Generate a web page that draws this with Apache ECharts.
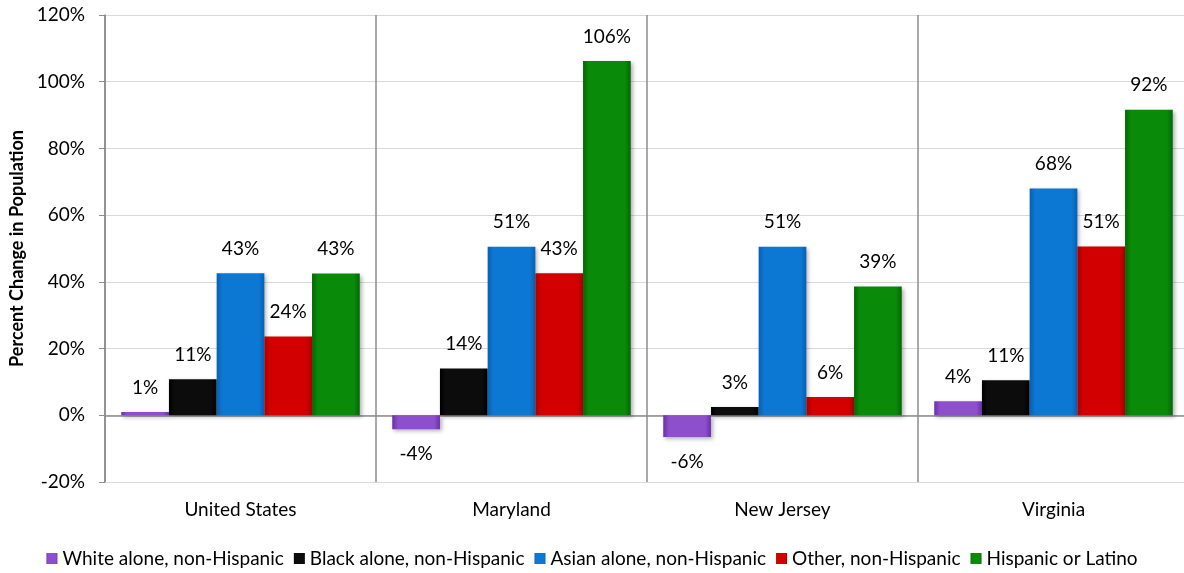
<!DOCTYPE html>
<html>
<head>
<meta charset="utf-8">
<script src="https://cdn.jsdelivr.net/npm/echarts@6/dist/echarts.min.js"></script>
<style>
  html, body { margin: 0; padding: 0; background: #fff; }
  #chart { width: 1184px; height: 573px; }
</style>
</head>
<body>
<div id="chart"></div>
<script>
var categories = ['United States', 'Maryland', 'New Jersey', 'Virginia']
var seriesNames = ['White alone, non-Hispanic', 'Black alone, non-Hispanic', 'Asian alone, non-Hispanic', 'Other, non-Hispanic', 'Hispanic or Latino']
var white = [1, -4.2, -6.5, 4.2]
var black = [10.8, 14, 2.5, 10.5]
var asian = [42.6, 50.5, 50.5, 68]
var other = [23.6, 42.6, 5.5, 50.6]
var hispanic = [42.5, 106.2, 38.6, 91.6]
var yTicks = { min: -20, max: 120, interval: 20 }

var colors = [
  ['#8d4fcc', '#6a2fa6'],
  ['#0c0c0c', '#000000'],
  ['#0d78d4', '#0560b0'],
  ['#d20000', '#a80000'],
  ['#098a09', '#046604']
]
var allValues = [white, black, asian, other, hispanic]
var font = 'Lato, "Open Sans", sans-serif'

var series = allValues.map(function (vals, i) {
  return {
    name: seriesNames[i],
    type: 'bar',
    xAxisIndex: 0,
    barGap: '0%',
    barCategoryGap: '12%',
    itemStyle: {
      color: new echarts.graphic.LinearGradient(0, 0, 1, 0, [
        { offset: 0, color: colors[i][1] },
        { offset: 0.12, color: colors[i][0] },
        { offset: 0.88, color: colors[i][0] },
        { offset: 1, color: colors[i][1] }
      ]),
      shadowBlur: 4,
      shadowOffsetX: 2,
      shadowOffsetY: 2,
      shadowColor: 'rgba(0,0,0,0.3)'
    },
    data: vals.map(function (v) {
      return {
        value: v,
        label: { position: v < 0 ? 'bottom' : 'top' }
      }
    }),
    label: {
      show: true,
      distance: 15,
      fontFamily: font,
      fontSize: 19,
      color: '#000',
      formatter: function (p) { return Math.round(p.value) + '%' }
    }
  }
})

var chart = echarts.init(document.getElementById('chart'))
var option = {
  animation: false,
  color: colors.map(function (c) { return c[0] }),
  grid: { left: 105, top: 15, bottom: 91, width: 1084, outerBoundsMode: 'none' },
  legend: {
    bottom: 0,
    left: 'center',
    icon: 'rect',
    itemWidth: 11,
    itemHeight: 11,
    itemGap: 10,
    textStyle: { fontFamily: font, fontSize: 19, color: '#000' },
    data: seriesNames
  },
  xAxis: [
    {
      type: 'category',
      data: categories,
      position: 'bottom',
      axisLine: { onZero: true, lineStyle: { color: '#8c8c8c', width: 1.5 } },
      axisTick: { show: false },
      axisLabel: { show: false },
      splitLine: { show: true, lineStyle: { color: '#8c8c8c', width: 1.5 } }
    },
    {
      type: 'category',
      data: categories,
      position: 'bottom',
      axisLine: { onZero: false, lineStyle: { color: '#d9d9d9' } },
      axisTick: { show: false },
      axisLabel: { margin: 18, fontFamily: font, fontSize: 19, color: '#000' },
      splitLine: { show: false }
    }
  ],
  yAxis: {
    type: 'value',
    min: yTicks.min,
    max: yTicks.max,
    interval: yTicks.interval,
    name: 'Percent Change in Population',
    nameLocation: 'middle',
    nameGap: 77,
    nameTextStyle: { fontFamily: font, fontSize: 18, fontWeight: 'bold', color: '#000' },
    axisLine: { show: true, lineStyle: { color: '#8c8c8c', width: 1.5 } },
    axisTick: { show: true, length: 6, lineStyle: { color: '#8c8c8c' } },
    axisLabel: { margin: 20, fontFamily: font, fontSize: 19, color: '#000', formatter: '{value}%' },
    splitLine: { show: true, lineStyle: { color: '#d9d9d9' } }
  },
  series: series
}
chart.setOption(option)
</script>
</body>
</html>
